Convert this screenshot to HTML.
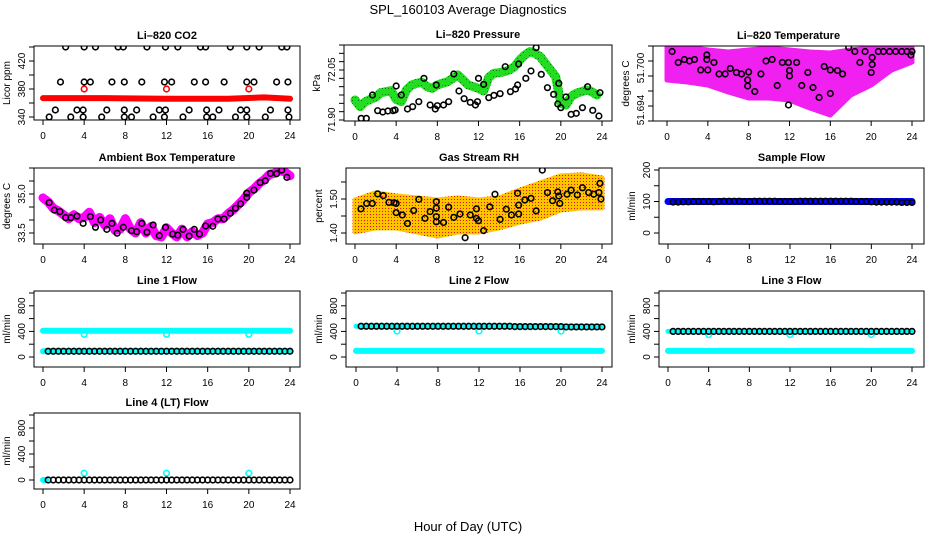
<!DOCTYPE html>
<html><head><meta charset="utf-8"><style>
html,body{margin:0;padding:0;background:#fff;}
svg{display:block;font-family:"Liberation Sans",Arial,sans-serif;}
</style></head><body>
<svg id="chart" width="936" height="540" viewBox="0 0 936 540">
<rect width="936" height="540" fill="#fff"/>
<defs>
<pattern id="rhPat" width="3" height="3" patternUnits="userSpaceOnUse"><rect width="3" height="3" fill="#ffc400"/><rect x="1" y="1" width="1" height="1" fill="#e81010"/></pattern>
<pattern id="grPat" width="3" height="3" patternUnits="userSpaceOnUse"><rect width="3" height="3" fill="#22dd22"/><rect x="1" y="1" width="1" height="1" fill="#117711"/></pattern>
</defs>
<text x="468" y="14" text-anchor="middle" font-size="13">SPL_160103  Average Diagnostics</text>
<text x="468" y="531" text-anchor="middle" font-size="13">Hour of Day (UTC)</text>
</svg>
<script>
// ---------- data ----------
const xTicks = [0,4,8,12,16,20,24];
// CO2
const co2BandH = [0,6,12,18,21.5,24];
const co2BandV = [367,367,366,366,368,366];
const co2RedH = [4,12,20];
const co2RedV = [380,380,380];
const co2H440 = [2.2,4.0,5.1,7.3,7.8,10.1,11.9,13.1,15.3,15.8,18.2,19.8,21.0,23.2,23.7];
const co2H390 = [1.7,4.0,4.6,6.7,7.9,9.6,11.8,12.5,14.7,15.8,17.6,19.8,20.5,22.7,23.8];
const co2H350 = [1.2,3.3,3.9,6.2,7.9,9.1,11.3,11.9,14.2,15.9,17.1,19.2,19.8,22.1,23.8];
const co2H340 = [0.6,2.7,3.9,5.7,7.9,8.6,10.7,11.8,13.6,15.9,16.5,18.7,19.8,21.6,23.9];
// Pressure
const presBandH = [0,0.5,1,1.5,2,2.5,3,3.5,4,4.5,5,5.5,6,6.5,7,7.5,8,8.5,9,9.5,10,10.5,11,11.5,12,12.5,13,13.5,14,14.5,15,15.5,16,16.5,17,17.5,18,18.5,19,19.5,20,20.5,21,21.5,22,22.5,23,23.5];
const presBandV = [71.960,71.940,71.955,71.962,71.968,71.982,71.985,71.988,71.962,71.955,71.990,72.005,72.010,72.013,72.000,71.995,72.005,72.010,72.015,72.025,72.035,72.020,72.005,72.000,71.995,71.987,72.028,72.040,72.042,72.045,72.050,72.060,72.080,72.095,72.105,72.100,72.090,72.070,72.050,72.030,71.950,71.945,71.970,71.980,71.985,71.990,71.985,71.975];
const presPtH = [0.6,1.1,1.7,2.2,2.7,3.2,3.7,3.9,4.0,4.5,5.1,5.6,6.2,6.7,7.3,7.8,7.9,8.0,8.6,9.1,9.6,10.1,10.6,11.2,11.7,11.9,12.0,12.5,13.0,13.5,14.1,14.6,15.1,15.6,15.9,15.8,16.6,17.1,17.6,18.1,18.7,19.3,19.7,19.8,20.0,20.5,21.0,21.5,22.1,22.6,23.1,23.7,23.8];
const presPtV = [71.905,71.905,71.975,71.928,71.924,71.927,71.928,71.930,72.002,71.975,71.933,71.940,71.955,72.025,71.945,71.933,72.005,71.943,71.945,71.955,72.038,71.987,71.964,71.953,71.945,71.955,72.025,72.007,71.967,71.974,71.979,72.060,71.985,71.993,72.068,72.005,72.025,72.047,72.117,72.037,71.997,71.977,71.948,72.010,71.937,71.969,71.917,71.920,71.937,72.000,71.929,71.912,71.982];
// Li-820 temperature
const tEnvH = [0,2,4,6,8,10,12,14,16,18,20,22,24];
const tEnvHi = [51.7088,51.7088,51.7082,51.7078,51.7082,51.7086,51.7082,51.7078,51.7076,51.7082,51.7086,51.7090,51.7090];
const tEnvLo = [51.7022,51.7018,51.7012,51.6998,51.6986,51.6986,51.6982,51.6966,51.6952,51.6992,51.7012,51.7042,51.7058];
const tPtH = [0.5,1.1,1.7,2.2,2.7,3.3,3.9,3.9,4.0,4.6,5.1,5.7,6.2,6.8,7.3,7.9,7.9,8.0,8.6,9.2,9.7,10.3,10.8,11.3,11.9,12.0,12.0,11.9,12.7,13.2,13.8,14.3,14.9,15.4,16.0,16.0,16.7,17.2,17.8,18.4,18.9,19.4,20.0,20.1,20.1,20.7,21.2,21.8,22.4,23.0,23.5,24.0,23.9];
const tPtV = [51.7079,51.7057,51.7063,51.7060,51.7063,51.7042,51.7072,51.7063,51.7042,51.7057,51.7034,51.7034,51.7045,51.7037,51.7034,51.7022,51.7010,51.7038,51.6999,51.7034,51.7060,51.7063,51.7011,51.7057,51.7057,51.7041,51.7030,51.6972,51.7057,51.7011,51.7037,51.7007,51.6987,51.7049,51.7042,51.6995,51.7041,51.7034,51.7087,51.7079,51.7057,51.7079,51.7037,51.7067,51.7053,51.7079,51.7079,51.7079,51.7079,51.7079,51.7079,51.7079,51.7072];
const tLabelVals = [51.6962,51.7046];
const tLabelText = ['51.694','51.700'];
// Ambient box temperature
const ambBandH = [0,0.5,1,1.5,2,2.5,3,3.5,4,4.5,5,5.5,6,6.5,7,7.5,8,8.5,9,9.5,10,10.5,11,11.5,12,12.5,13,13.5,14,14.5,15,15.5,16,16.5,17,17.5,18,18.5,19,19.5,20,20.5,21,21.5,22,22.5,23,23.5,24];
const ambBandV = [34.85,34.7,34.45,34.35,34.2,34.05,34.2,34.05,34.1,34.3,33.9,34.1,33.8,34.05,33.6,33.65,34.05,33.65,33.5,33.9,33.5,33.75,33.4,33.35,33.7,33.5,33.35,33.65,33.35,33.55,33.4,33.5,33.85,33.9,34.05,34.05,34.25,34.4,34.6,34.8,35.05,35.2,35.4,35.55,35.75,35.8,35.9,35.85,35.7];
const ambPtH = [0.6,1.1,1.65,2.2,2.7,3.3,3.9,4.6,5.1,5.6,6.2,6.7,7.2,7.8,8.6,9.1,9.6,10.1,10.7,11.3,11.9,12.6,13.1,13.6,14.2,14.7,15.2,15.8,16.5,17.0,17.6,18.2,18.7,19.2,19.8,19.8,20.5,21.1,21.6,22.1,22.7,23.2,23.7];
const ambPtV = [34.67,34.38,34.32,34.09,34.09,34.15,33.87,34.13,33.72,34.0,33.64,33.87,33.49,33.72,33.59,33.55,33.87,33.53,33.81,33.40,33.72,33.46,33.42,33.64,33.38,33.64,33.46,33.77,33.76,34.04,34.04,34.26,34.45,34.62,34.87,35.03,35.15,35.44,35.51,35.79,35.78,35.92,35.64];
// Gas stream RH
const rhEnvH = [0,2,4,6,8,10,12,14,16,18,20,22,24];
const rhEnvHi = [1.497,1.518,1.509,1.503,1.497,1.503,1.497,1.503,1.526,1.547,1.568,1.571,1.562];
const rhEnvLo = [1.403,1.415,1.415,1.403,1.391,1.403,1.403,1.415,1.432,1.444,1.468,1.474,1.474];
const rhPtH = [0.58,1.13,1.68,2.2,2.75,3.3,3.8,4.0,4.0,4.6,5.1,5.7,6.2,6.8,7.3,7.9,7.9,7.9,7.9,8.6,9.1,9.6,10.2,10.7,11.2,11.8,11.8,12.0,12.5,13.1,13.6,14.1,14.7,15.2,15.8,15.9,15.9,16.5,17.1,17.6,18.2,18.7,19.2,19.7,19.8,19.9,20.6,21.0,21.6,22.1,22.7,23.2,23.7,23.8,23.9];
const rhPtV = [1.471,1.487,1.487,1.515,1.510,1.490,1.489,1.487,1.460,1.453,1.428,1.466,1.499,1.443,1.463,1.492,1.448,1.473,1.433,1.431,1.476,1.446,1.456,1.386,1.453,1.471,1.443,1.436,1.407,1.477,1.514,1.440,1.470,1.453,1.517,1.482,1.456,1.497,1.502,1.465,1.585,1.519,1.495,1.521,1.509,1.487,1.514,1.526,1.512,1.533,1.519,1.514,1.519,1.546,1.500];
// Flows (half-hourly)
const flowH = [0.5,1,1.5,2,2.5,3,3.5,4,4.5,5,5.5,6,6.5,7,7.5,8,8.5,9,9.5,10,10.5,11,11.5,12,12.5,13,13.5,14,14.5,15,15.5,16,16.5,17,17.5,18,18.5,19,19.5,20,20.5,21,21.5,22,22.5,23,23.5,24];
const sampleBlack = [98,98,99,99,100,100,100,100,99,100,101,101,101,101,100,100,101,101,101,101,101,100,100,100,100,101,101,101,101,101,101,101,101,101,101,101,100,100,100,99,98,98,98,98,98,97,97,97];
const bandH = [0,24];
const sampleBlue = [100,100];
const line1Top = [410,410];
const line1Low = [90,90];
const line1Black = [90,90,90,90,90,90,90,90,90,90,90,90,90,90,90,90,90,90,90,90,90,90,90,90,90,90,90,90,90,90,90,90,90,90,90,90,90,90,90,90,90,90,90,90,90,90,90,90];
const outH = [4,12,20];
const line1Out = [355,355,355];
const line2Top = [480,480];
const line2Low = [95,95];
const line2Black = [480,480,480,480,480,480,480,480,480,480,480,480,480,480,480,480,480,480,480,480,480,480,480,480,480,480,480,480,480,480,475,475,475,475,475,475,475,475,475,475,470,470,470,470,470,470,470,470];
const line2Out = [405,405,405];
const line3Top = [400,400];
const line3Low = [95,95];
const line3Black = [400,400,400,400,400,400,400,400,400,400,400,400,400,400,400,400,400,400,400,400,400,400,400,400,400,400,400,400,400,400,400,400,400,400,400,400,400,400,400,400,400,400,400,400,400,400,400,400];
const line3Out = [350,350,350];
const line4BandH = [0,0.3];
const line4Band = [0,0];
const line4Black = [0,0,0,0,0,0,0,0,0,0,0,0,0,0,0,0,0,0,0,0,0,0,0,0,0,0,0,0,0,0,0,0,0,0,0,0,0,0,0,0,0,0,0,0,0,0,0,0];
const line4Out = [105,105,105];

// ---------- drawing ----------
const NS = "http://www.w3.org/2000/svg";
const svg = document.getElementById('chart');
function mk(tag, parent, attrs){
  const e = document.createElementNS(NS, tag);
  for (const k in attrs) e.setAttribute(k, attrs[k]);
  parent.appendChild(e);
  return e;
}
function panel(name, title, ylab, box, xa, xb, v0, p0, v1, p1, yTicks, yLabels, labelFmt){
  const g = mk('g', svg, {});
  
  
  const sx = h => xa + (xb - xa) * h / 24;
  const sy = v => p0 + (v - v0) * (p1 - p0) / (v1 - v0);
  const [L, R, T, B] = box;
  const plot = mk('g', g, {});
  
  
  const clip = mk('clipPath', g, {id: name + '-clip'});
  mk('rect', clip, {x: L, y: T, width: R - L, height: B - T});
  plot.setAttribute('clip-path', 'url(#' + name + '-clip)');
  const frame = mk('rect', g, {x: L, y: T, width: R - L, height: B - T, fill: 'none', stroke: '#000', 'stroke-width': 1});
  
  
  const xax = mk('g', g, {});
  
  
  mk('line', xax, {x1: sx(0), x2: sx(24), y1: B, y2: B, stroke: '#000'});
  xTicks.forEach(t => {
    mk('line', xax, {x1: sx(t), x2: sx(t), y1: B, y2: B + 5, stroke: '#000'});
    const tl = mk('text', xax, {x: sx(t), y: B + 19, 'text-anchor': 'middle', 'font-size': 10});
    tl.textContent = t;
    
    
  });
  const yax = mk('g', g, {});
  
  
  mk('line', yax, {x1: L, x2: L, y1: sy(yTicks[0]), y2: sy(yTicks[yTicks.length - 1]), stroke: '#000'});
  yTicks.forEach(t => mk('line', yax, {x1: L - 5, x2: L, y1: sy(t), y2: sy(t), stroke: '#000'}));
  yLabels.forEach((t, i) => {
    const y = sy(t), x = L - 9;
    const tl = mk('text', yax, {x: x, y: y, 'text-anchor': 'middle', 'font-size': 10, transform: 'rotate(-90 ' + x + ' ' + y + ')'});
    tl.textContent = labelFmt(t, i);
    
    
  });
  const yt = mk('text', g, {x: L - 24, y: (T + B) / 2, 'text-anchor': 'middle', 'font-size': 10, transform: 'rotate(-90 ' + (L - 24) + ' ' + ((T + B) / 2) + ')'});
  yt.textContent = ylab;
  
  
  const tt = mk('text', g, {x: (L + R) / 2, y: T - 7, 'text-anchor': 'middle', 'font-size': 11, 'font-weight': 'bold'});
  tt.textContent = title;
  
  
  return {plot, sx, sy};
}
function band(p, hs, vs, color, w, nm){
  const pts = hs.map((h, i) => p.sx(h) + ',' + p.sy(vs[i])).join(' ');
  const e = mk('polyline', p.plot, {points: pts, fill: 'none', stroke: color, 'stroke-width': w, 'stroke-linejoin': 'round', 'stroke-linecap': 'round'});
  
  
}
function env(p, hs, lo, hi, fill, nm){
  const a = hs.map((h, i) => p.sx(h) + ',' + p.sy(hi[i]));
  const b = hs.map((h, i) => p.sx(h) + ',' + p.sy(lo[i])).reverse();
  const e = mk('polygon', p.plot, {points: a.concat(b).join(' '), fill: fill, stroke: fill, 'stroke-width': 5, 'stroke-linejoin': 'round'});
  
  
}
function pts(p, hs, vs, color, nm){
  const g = mk('g', p.plot, {});
  
  
  hs.forEach((h, i) => {
    const c = mk('circle', g, {cx: p.sx(h), cy: p.sy(vs[i]), r: 2.8, fill: 'none', stroke: color, 'stroke-width': 1.6});
    
    
  });
}
function constArr(hs, v){ return hs.map(() => v); }
const f0 = t => String(t), f2 = t => t.toFixed(2), f1 = t => t.toFixed(1);
const fT = (t, i) => tLabelText[i];

// CO2
let p = panel('co2', 'Li\u2013820 CO2', 'Licor ppm', [34,300,46,120], 43, 290, 340, 117, 420, 61, [340,360,380,400,420,440], [340,380,420], f0);
band(p, co2BandH, co2BandV, '#ff0000', 6, 'co2-red-band');
pts(p, co2RedH, co2RedV, '#ff0000', 'co2-red-points');
pts(p, co2H440, constArr(co2H440, 440), '#000', 'co2-points-440');
pts(p, co2H390, constArr(co2H390, 390), '#000', 'co2-points-390');
pts(p, co2H350, constArr(co2H350, 350), '#000', 'co2-points-350');
pts(p, co2H340, constArr(co2H340, 340), '#000', 'co2-points-340');
// Pressure
p = panel('pressure', 'Li\u2013820 Pressure', 'kPa', [344,612,45,121], 355, 602, 71.90, 120, 72.05, 70, [71.90,71.925,71.95,71.975,72.0,72.025,72.05,72.075,72.10,72.125], [71.90,72.05], f2);
band(p, presBandH, presBandV, 'url(#grPat)', 9, 'pressure-green-band');
band(p, presBandH, presBandV, '#22dd22', 4, 'pressure-green-core');
pts(p, presPtH, presPtV, '#000', 'pressure-points');
// Li-820 temperature
p = panel('li820-temp', 'Li\u2013820 Temperature', 'degrees C', [653,924,46,121], 667, 912, 51.694, 121, 51.700, 91, [51.694,51.697,51.700,51.703,51.706,51.709], tLabelVals, fT);
env(p, tEnvH, tEnvLo, tEnvHi, '#f020f0', 'temperature-magenta-cloud');
pts(p, tPtH, tPtV, '#000', 'temperature-points');
// Ambient
p = panel('ambient', 'Ambient Box Temperature', 'degrees C', [34,300,168,244], 43, 290, 33.5, 233, 35.0, 194, [33.5,34.0,34.5,35.0,35.5,36.0], [33.5,35.0], f1);
band(p, ambBandH, ambBandV, '#ff00ff', 9, 'ambient-magenta-band');
pts(p, ambPtH, ambPtV, '#000', 'ambient-points');
// RH
p = panel('rh', 'Gas Stream RH', 'percent', [346,612,168,244], 355, 602, 1.40, 233, 1.50, 199, [1.40,1.45,1.50,1.55], [1.40,1.50], f2);
env(p, rhEnvH, rhEnvLo, rhEnvHi, 'url(#rhPat)', 'rh-orange-cloud');
pts(p, rhPtH, rhPtV, '#000', 'rh-points');
// Sample flow
p = panel('sample-flow', 'Sample Flow', 'ml/min', [659,924,168,244], 668, 912, 0, 233, 200, 170, [0,50,100,150,200], [0,100,200], f0);
band(p, bandH, sampleBlue, '#0000ff', 7, 'sample-blue-band');
pts(p, flowH, sampleBlack, '#000', 'sample-points');
// Line flows
const ft = [0,200,400,600,800,1000], fl = [0,400,800];
p = panel('line1', 'Line 1 Flow', 'ml/min', [34,300,291,367], 43, 290, 0, 357, 1000, 293, ft, fl, f0);
band(p, bandH, line1Top, '#00ffff', 6, 'line1-cyan-top');
band(p, bandH, line1Low, '#00ffff', 6, 'line1-cyan-low');
pts(p, outH, line1Out, '#00ffff', 'line1-cyan-points');
pts(p, flowH, line1Black, '#000', 'line1-points');
p = panel('line2', 'Line 2 Flow', 'ml/min', [346,612,291,367], 356, 602, 0, 357, 1000, 293, ft, fl, f0);
band(p, bandH, line2Top, '#00ffff', 5, 'line2-cyan-top');
band(p, bandH, line2Low, '#00ffff', 6, 'line2-cyan-low');
pts(p, outH, line2Out, '#00ffff', 'line2-cyan-points');
pts(p, flowH, line2Black, '#000', 'line2-points');
p = panel('line3', 'Line 3 Flow', 'ml/min', [659,924,291,367], 668, 912, 0, 357, 1000, 293, ft, fl, f0);
band(p, bandH, line3Top, '#00ffff', 5, 'line3-cyan-top');
band(p, bandH, line3Low, '#00ffff', 6, 'line3-cyan-low');
pts(p, outH, line3Out, '#00ffff', 'line3-cyan-points');
pts(p, flowH, line3Black, '#000', 'line3-points');
p = panel('line4', 'Line 4 (LT) Flow', 'ml/min', [34,300,413,489], 43, 290, 0, 480, 1000, 415, ft, fl, f0);
band(p, line4BandH, line4Band, '#00ffff', 6, 'line4-cyan-band');
pts(p, outH, line4Out, '#00ffff', 'line4-cyan-points');
pts(p, flowH, line4Black, '#000', 'line4-points');
</script>
</body></html>
